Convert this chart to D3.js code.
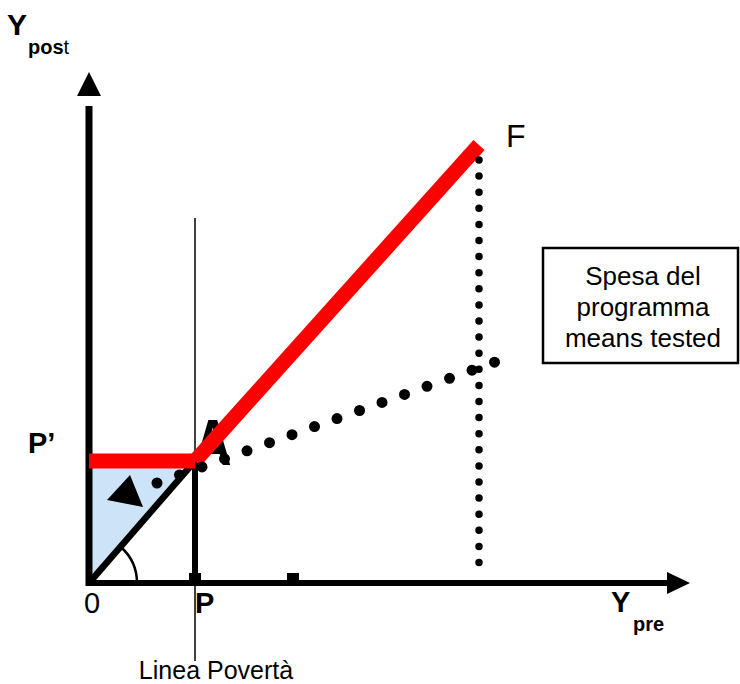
<!DOCTYPE html>
<html>
<head>
<meta charset="utf-8">
<script src="https://cdn.jsdelivr.net/npm/d3@7"></script>
<style>
  body { margin: 0; background: #fff; }
  svg { display: block; font-family: "Liberation Sans", Arial, sans-serif; }
</style>
</head>
<body>
<svg id="chart"></svg>
<script>
// values in chart units (x: Y pre, y: Y post)
var povertyLine = 106;                 // P
var floorLevel = 122;                  // P'
var pointA = [106, 122];
var pointF = [390, 438];
var redKink = [[0, 122], [106, 122]];
var redRise = [[106, 122], [390, 438]];
var diagonal = [[0, 0], [106, 122]];
var meansTested = [[68, 100], [406, 221]];
var spendingDrop = [[390, 423], [390, 11]];
var arrowHead = [[41, 108], [18, 83], [54, 76]];
var axisTicks = [106, 204];
var boxLines = ["Spesa del", "programma", "means tested"];

var svgWidth = 740, svgHeight = 684;
var svg = d3.select("#chart").attr("width", svgWidth).attr("height", svgHeight);

var x = d3.scaleLinear().domain([0, 600]).range([89, 689]);
var y = d3.scaleLinear().domain([0, 510]).range([583, 73]);

var line = d3.line()
    .x(function(d) { return x(d[0]); })
    .y(function(d) { return y(d[1]); });

// blue area between the guaranteed floor and the 45 degree line
svg.append("path")
    .attr("d", line([[0, 0], [0, floorLevel], pointA]) + "Z")
    .attr("fill", "#cde4f8");

// thin poverty line
svg.append("line")
    .attr("x1", x(povertyLine)).attr("x2", x(povertyLine))
    .attr("y1", 218).attr("y2", 661)
    .attr("stroke", "#000").attr("stroke-width", 1.5);

// 45 degree line and vertical drop at P
svg.append("path").attr("d", line(diagonal))
    .attr("stroke", "#000").attr("stroke-width", 6.5).attr("fill", "none");
svg.append("path").attr("d", line([[povertyLine, 0], pointA]))
    .attr("stroke", "#000").attr("stroke-width", 6).attr("fill", "none");

// axes with arrows
svg.append("line")
    .attr("x1", x(0)).attr("x2", x(0))
    .attr("y1", y(0) + 3).attr("y2", y(477))
    .attr("stroke", "#000").attr("stroke-width", 7);
svg.append("path")
    .attr("d", line([[-12, 487], [0, 511], [12, 487]]) + "Z")
    .attr("fill", "#000");
svg.append("line")
    .attr("x1", x(0) - 3).attr("x2", x(580))
    .attr("y1", y(0)).attr("y2", y(0))
    .attr("stroke", "#000").attr("stroke-width", 6);
svg.append("path")
    .attr("d", line([[578, 11], [601, 0], [578, -11]]) + "Z")
    .attr("fill", "#000");

svg.selectAll("rect.tick")
    .data(axisTicks)
    .enter().append("rect")
    .attr("class", "tick")
    .attr("x", function(d) { return x(d) - 6; })
    .attr("y", y(0) - 10)
    .attr("width", 12).attr("height", 8)
    .attr("fill", "#000");

// A label (behind the red line)
svg.append("text")
    .attr("transform", "translate(" + (x(pointA[0]) - 1) + "," + (y(pointA[1]) + 4) + ") scale(1,1.25)")
    .attr("font-size", 52).attr("font-weight", "bold")
    .text("A");

// red budget line
[redKink, redRise].forEach(function(seg) {
    svg.append("path").attr("d", line(seg))
        .attr("stroke", "#ff0000").attr("stroke-width", 15)
        .attr("fill", "none").attr("stroke-linecap", "butt");
});

// dotted lines
svg.append("path").attr("d", line(meansTested))
    .attr("stroke", "#000").attr("stroke-width", 11).attr("fill", "none")
    .attr("stroke-linecap", "round").attr("stroke-dasharray", "0,23.9");
svg.append("path").attr("d", line(spendingDrop))
    .attr("stroke", "#000").attr("stroke-width", 7.5).attr("fill", "none")
    .attr("stroke-linecap", "round").attr("stroke-dasharray", "0,16.1");

// arrowhead in blue area
svg.append("path").attr("d", line(arrowHead) + "Z").attr("fill", "#000");

// angle arc at origin
var ang = Math.atan2(y(0) - y(pointA[1]), x(pointA[0]) - x(0));
var arcPath = d3.path();
arcPath.arc(0, 0, 48, 0, -ang, true);
svg.append("path")
    .attr("transform", "translate(" + x(0) + "," + y(0) + ")")
    .attr("d", arcPath.toString())
    .attr("fill", "none").attr("stroke", "#000").attr("stroke-width", 2.5);

// labels
svg.append("text").attr("x", 7).attr("y", 35).attr("font-size", 30).attr("font-weight", "bold").text("Y");
var sub = svg.append("text").attr("x", 28).attr("y", 54).attr("font-size", 20);
sub.append("tspan").attr("font-weight", "bold").text("pos");
sub.append("tspan").text("t");

svg.append("text").attr("x", 28).attr("y", 453).attr("font-size", 29).attr("font-weight", "bold").text("P\u2019");
svg.append("text").attr("x", 84).attr("y", 613).attr("font-size", 29).text("0");
svg.append("text").attr("x", 195).attr("y", 613).attr("font-size", 29).attr("font-weight", "bold").text("P");
svg.append("text").attr("x", 611).attr("y", 612).attr("font-size", 29).attr("font-weight", "bold").text("Y");
svg.append("text").attr("x", 633).attr("y", 631).attr("font-size", 20).attr("font-weight", "bold").text("pre");
svg.append("text").attr("x", 506).attr("y", 147).attr("font-size", 32).text("F");
svg.append("text").attr("x", 216).attr("y", 679).attr("font-size", 25).attr("text-anchor", "middle").text("Linea Povert\u00e0");

// box
svg.append("rect")
    .attr("x", 543).attr("y", 248).attr("width", 195).attr("height", 115)
    .attr("fill", "#fff").attr("stroke", "#000").attr("stroke-width", 2.5);
svg.selectAll("text.box")
    .data(boxLines)
    .enter().append("text")
    .attr("class", "box")
    .attr("x", 643)
    .attr("y", function(d, i) { return 285 + i * 31; })
    .attr("text-anchor", "middle")
    .attr("font-size", 26)
    .text(function(d) { return d; });
</script>
</body>
</html>
